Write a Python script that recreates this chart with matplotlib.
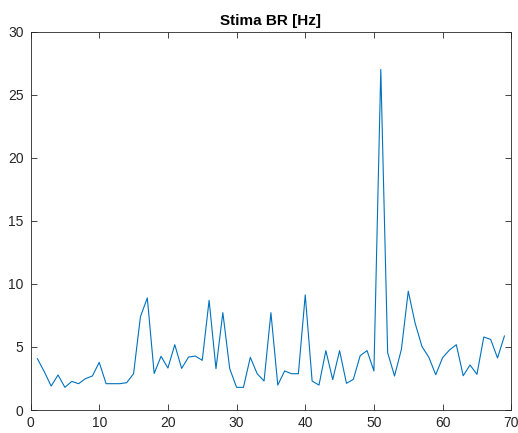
import numpy as np
import matplotlib
matplotlib.use('Agg')
import matplotlib.pyplot as plt

plt.rcParams['font.family'] = ['Liberation Sans', 'DejaVu Sans']

# estimated breathing rate per window
br = [4.07, 3.04, 1.9, 2.78, 1.8, 2.27, 2.09, 2.49, 2.7, 3.78,
      2.09, 2.09, 2.09, 2.17, 2.88, 7.4, 8.89, 2.9, 4.26, 3.33,
      5.18, 3.3, 4.2, 4.28, 3.94, 8.7, 3.28, 7.72, 3.28, 1.8,
      1.8, 4.18, 2.88, 2.3, 7.72, 1.98, 3.1, 2.88, 2.88, 9.13,
      2.3, 1.98, 4.71, 2.41, 4.71, 2.12, 2.43, 4.31, 4.71, 3.1,
      27.0, 4.55, 2.7, 4.81, 9.42, 6.88, 5.03, 4.18, 2.8, 4.15,
      4.76, 5.18, 2.72, 3.57, 2.83, 5.79, 5.6, 4.13, 5.87]
idx = np.arange(1, len(br) + 1)

xticks = [0, 10, 20, 30, 40, 50, 60, 70]
yticks = [0, 5, 10, 15, 20, 25, 30]

fig = plt.figure(figsize=(5.18, 4.33), dpi=100)
ax = fig.add_axes([0.059, 0.053, 0.928, 0.874])
ax.plot(idx, br, color='#0072BD', lw=0.8)

ax.set_xlim(0, 70)
ax.set_ylim(0, 30)
ax.set_xticks(xticks)
ax.set_yticks(yticks)
ax.tick_params(direction='in', top=True, right=True, length=4, width=0.6,
               labelsize=10, colors='#262626', pad=4)
ax.tick_params(axis='y', pad=5)
for s in ax.spines.values():
    s.set_linewidth(0.6)
    s.set_color('#262626')
ax.set_title('Stima BR [Hz]', fontsize=11, fontweight='bold', pad=5)

fig.savefig('out.png', dpi=100)
